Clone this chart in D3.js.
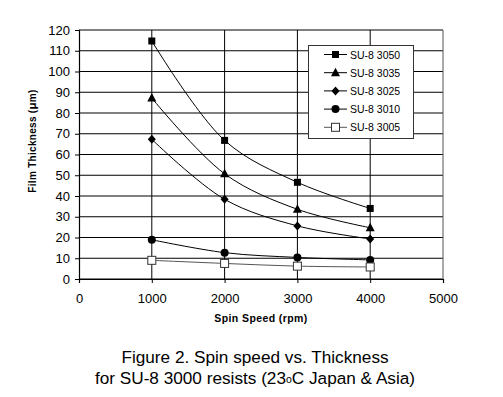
<!DOCTYPE html>
<html>
<head>
<meta charset="utf-8">
<script src="https://cdn.jsdelivr.net/npm/d3@7"></script>
<style>
  body { margin: 0; background: #fff; }
  text { font-family: "Liberation Sans", Arial, sans-serif; }
</style>
</head>
<body>
<svg id="chart" width="503" height="397"></svg>
<script>
    // spin speed (rpm)
    var speeds = [1000, 2000, 3000, 4000];
    var seriesNames = ["SU-8 3050", "SU-8 3035", "SU-8 3025", "SU-8 3010", "SU-8 3005"];
    var su3050 = [114.7, 66.8, 46.6, 34.0];
    var su3035 = [87.2, 50.7, 33.6, 24.7];
    var su3025 = [67.3, 38.4, 25.6, 19.3];
    var su3010 = [18.9, 12.7, 10.4, 9.2];
    var su3005 = [9.0, 7.5, 6.2, 5.8];
    var markerTypes = ["square", "triangle", "diamond", "circle", "openSquare"];
    var xTicks = [0, 1000, 2000, 3000, 4000, 5000];
    var yTicks = [0, 10, 20, 30, 40, 50, 60, 70, 80, 90, 100, 110, 120];

    var allValues = [su3050, su3035, su3025, su3010, su3005];

    var svg = d3.select("#chart");
    // plot box (window.top is taken, so use other names)
    var plotL = 79, plotR = 443, plotT = 30, plotB = 279;

    var x = d3.scaleLinear().domain([0, 5000]).range([plotL, plotR]);
    var y = d3.scaleLinear().domain([0, 120]).range([plotB, plotT]);

    // grid
    svg.append("g").selectAll("line")
        .data(yTicks)
        .enter().append("line")
        .attr("x1", plotL).attr("x2", plotR)
        .attr("y1", function (d) { return y(d); })
        .attr("y2", function (d) { return y(d); })
        .attr("stroke", "#000").attr("stroke-width", 1);

    svg.append("g").selectAll("line")
        .data(xTicks.slice(1))
        .enter().append("line")
        .attr("y1", plotT).attr("y2", plotB)
        .attr("x1", function (d) { return x(d); })
        .attr("x2", function (d) { return x(d); })
        .attr("stroke", function (d) { return d === 5000 ? "#555" : "#000"; })
        .attr("stroke-width", 1);

    // axes
    var yAxis = svg.append("g")
        .attr("transform", "translate(" + plotL + ",0)")
        .call(d3.axisLeft(y).tickValues(yTicks).tickSize(4).tickPadding(5));
    var xAxis = svg.append("g")
        .attr("transform", "translate(0," + plotB + ")")
        .call(d3.axisBottom(x).tickValues(xTicks).tickFormat(d3.format("d")).tickSize(4).tickPadding(11));

    [yAxis, xAxis].forEach(function (a) {
        a.selectAll("text").attr("font-size", 13).attr("fill", "#000")
            .attr("font-family", "Liberation Sans, Arial, sans-serif");
        a.selectAll("line").attr("stroke", "#000");
        a.select(".domain").attr("stroke", "#000").attr("stroke-width", 1.2);
    });

    // axis titles
    svg.append("text")
        .attr("x", 261).attr("y", 322)
        .attr("text-anchor", "middle")
        .attr("font-size", 10.5).attr("font-weight", "bold")
        .attr("letter-spacing", 0.4)
        .text("Spin Speed (rpm)");

    var yt = svg.append("text")
        .attr("transform", "translate(36,141) rotate(-90)")
        .attr("text-anchor", "middle")
        .attr("font-size", 10).attr("font-weight", "bold")
        .attr("letter-spacing", 0.3);
    yt.append("tspan").text("Film Thickness (");
    yt.append("tspan").attr("font-size", 11.5).text("μ");
    yt.append("tspan").text("m)");

    // lines
    var line = d3.line()
        .x(function (d, i) { return x(speeds[i]); })
        .y(function (d) { return y(d); })
        .curve(d3.curveCatmullRom.alpha(0.5));

    svg.append("g").selectAll("path")
        .data(allValues)
        .enter().append("path")
        .attr("d", line)
        .attr("fill", "none")
        .attr("stroke", function (d, i) { return i === 4 ? "#555" : "#000"; })
        .attr("stroke-width", 1);

    function drawMarker(g, type, cx, cy) {
        if (type === "square") {
            g.append("rect").attr("x", cx - 3.5).attr("y", cy - 3.5)
                .attr("width", 7).attr("height", 7).attr("fill", "#000");
        } else if (type === "openSquare") {
            g.append("rect").attr("x", cx - 4).attr("y", cy - 4)
                .attr("width", 8).attr("height", 8)
                .attr("fill", "#fff").attr("stroke", "#333").attr("stroke-width", 1);
        } else if (type === "triangle") {
            g.append("path")
                .attr("d", "M" + cx + "," + (cy - 5) + "L" + (cx + 4.5) + "," + (cy + 3.5) + "L" + (cx - 4.5) + "," + (cy + 3.5) + "Z")
                .attr("fill", "#000");
        } else if (type === "diamond") {
            g.append("path")
                .attr("d", "M" + cx + "," + (cy - 4.5) + "L" + (cx + 4) + "," + cy + "L" + cx + "," + (cy + 4.5) + "L" + (cx - 4) + "," + cy + "Z")
                .attr("fill", "#000");
        } else {
            g.append("circle").attr("cx", cx).attr("cy", cy).attr("r", 4).attr("fill", "#000");
        }
    }

    var markers = svg.append("g");
    allValues.forEach(function (vals, s) {
        vals.forEach(function (v, i) {
            drawMarker(markers, markerTypes[s], x(speeds[i]), y(v));
        });
    });

    // legend
    var legend = svg.append("g");
    legend.append("rect")
        .attr("x", 308.5).attr("y", 45.5)
        .attr("width", 105).attr("height", 93)
        .attr("fill", "#fff").attr("stroke", "#333").attr("stroke-width", 1);

    seriesNames.forEach(function (name, i) {
        var ly = 54.5 + i * 18.2;
        legend.append("line")
            .attr("x1", 324).attr("x2", 347)
            .attr("y1", ly).attr("y2", ly)
            .attr("stroke", i === 4 ? "#555" : "#000").attr("stroke-width", 1);
        drawMarker(legend, markerTypes[i], 335.5, ly);
        legend.append("text")
            .attr("x", 350).attr("y", ly + 4)
            .attr("font-size", 10.5)
            .text(name);
    });

    // caption
    svg.append("text")
        .attr("x", 255).attr("y", 362.5)
        .attr("text-anchor", "middle")
        .attr("font-size", 17.2)
        .text("Figure 2. Spin speed vs. Thickness");

    var cap = svg.append("text")
        .attr("x", 255).attr("y", 384)
        .attr("text-anchor", "middle")
        .attr("font-size", 17.2);
    cap.append("tspan").text("for SU-8 3000 resists (23");
    cap.append("tspan").attr("font-size", 10.5).attr("dy", -1).text("o");
    cap.append("tspan").attr("dy", 1).text("C Japan & Asia)");
</script>
</body>
</html>
